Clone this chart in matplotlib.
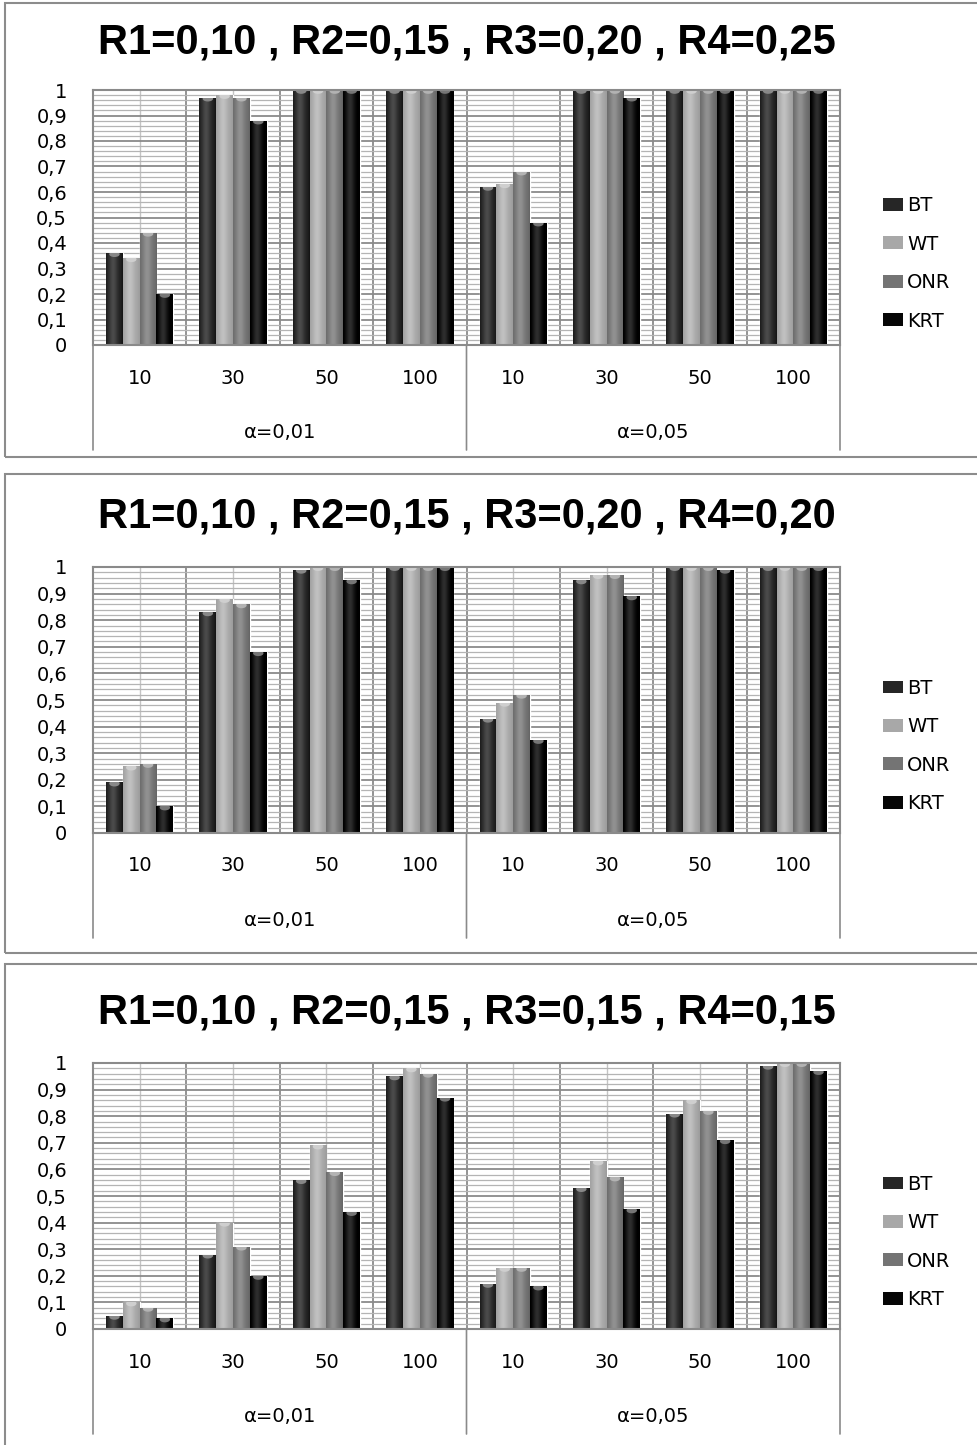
import numpy as np
import matplotlib
matplotlib.use("Agg")
import matplotlib.pyplot as plt
from matplotlib.patches import Rectangle, Ellipse
from matplotlib.transforms import ScaledTranslation
from matplotlib.colors import to_rgb

# ---- data -------------------------------------------------------------
sample_sizes = ["10", "30", "50", "100"]
alpha_groups = ["α=0,01", "α=0,05"]
series_names = ["BT", "WT", "ONR", "KRT"]
series_colors = ["#262626", "#a8a8a8", "#747474", "#060606"]

titles = [
    "R1=0,10 , R2=0,15 , R3=0,20 , R4=0,25",
    "R1=0,10 , R2=0,15 , R3=0,20 , R4=0,20",
    "R1=0,10 , R2=0,15 , R3=0,15 , R4=0,15",
]

# power values: 4 sample sizes for α=0,01 followed by 4 for α=0,05
p1_bt = [0.36, 0.97, 1.00, 1.00, 0.62, 1.00, 1.00, 1.00]
p1_wt = [0.34, 0.98, 1.00, 1.00, 0.63, 1.00, 1.00, 1.00]
p1_onr = [0.44, 0.97, 1.00, 1.00, 0.68, 1.00, 1.00, 1.00]
p1_krt = [0.20, 0.88, 1.00, 1.00, 0.48, 0.97, 1.00, 1.00]

p2_bt = [0.19, 0.83, 0.99, 1.00, 0.43, 0.95, 1.00, 1.00]
p2_wt = [0.25, 0.88, 1.00, 1.00, 0.49, 0.97, 1.00, 1.00]
p2_onr = [0.26, 0.86, 1.00, 1.00, 0.52, 0.97, 1.00, 1.00]
p2_krt = [0.10, 0.68, 0.95, 1.00, 0.35, 0.89, 0.99, 1.00]

p3_bt = [0.05, 0.28, 0.56, 0.95, 0.17, 0.53, 0.81, 0.99]
p3_wt = [0.10, 0.40, 0.69, 0.98, 0.23, 0.63, 0.86, 1.00]
p3_onr = [0.08, 0.31, 0.59, 0.96, 0.23, 0.57, 0.82, 1.00]
p3_krt = [0.04, 0.20, 0.44, 0.87, 0.16, 0.45, 0.71, 0.97]

panels = [
    [p1_bt, p1_wt, p1_onr, p1_krt],
    [p2_bt, p2_wt, p2_onr, p2_krt],
    [p3_bt, p3_wt, p3_onr, p3_krt],
]

# ---- figure layout (pixels) -------------------------------------------
W, H, DPI = 977, 1445, 100
fig = plt.figure(figsize=(W / DPI, H / DPI), dpi=DPI)
fig.patch.set_facecolor("white")

def fx(px):
    return px / W

def fy(py):
    return 1 - py / H

AX_LEFT, AX_RIGHT = 93, 840
axes_tb = [(90, 345), (567, 833), (1063, 1329)]
frames_tb = [(3, 457), (474, 953), (964, 1460)]
title_gap = [47, 50, 51]

TEXT_FONT = ["DejaVu Sans"]
TITLE_FONT = ["Liberation Sans Narrow", "Liberation Sans", "DejaVu Sans"]
FS = 14


def lighten(c, k):
    r = np.array(to_rgb(c))
    return tuple(r + (1 - r) * k)


def shade_bar(ax, rect, color):
    """Cylinder-like horizontal shading plus a light cap at the top."""
    x, w, h = rect.get_x(), rect.get_width(), rect.get_height()
    if h <= 0:
        return
    t = np.linspace(0, 1, 40)
    base = np.array(to_rgb(color))
    glow = 0.16 * np.exp(-((t - 0.42) / 0.25) ** 2) - 0.08 * (t ** 6) - 0.05 * ((1 - t) ** 8)
    rgb = np.clip(base[None, :] + glow[:, None] * (1 - base[None, :] * 0.6), 0, 1)
    img = rgb[None, :, :]
    im = ax.imshow(img, extent=[x, x + w, 0, h], aspect="auto",
                   interpolation="bilinear", zorder=2.1)
    im.set_clip_path(rect)
    cap = Ellipse((x + w / 2, h - 0.004), w * 0.62, 0.022,
                  facecolor=lighten(color, 0.45), edgecolor="none", zorder=2.2)
    ax.add_patch(cap)
    cap.set_clip_path(rect)


n_cat = len(alpha_groups) * len(sample_sizes)
xpos = np.arange(n_cat)
bar_w = 0.18
offsets = (np.arange(len(series_names)) - 1.5) * bar_w
ylabels = ["0"] + [f"0,{i}" for i in range(1, 10)] + ["1"]

for pi, (values, title) in enumerate(zip(panels, titles)):
    top, bottom = axes_tb[pi]
    ftop, fbot = frames_tb[pi]

    # panel frame
    fig.patches.append(Rectangle((fx(5), fy(fbot)), fx(W + 10 - 5), fy(ftop) - fy(fbot),
                                 transform=fig.transFigure, facecolor="none",
                                 edgecolor="#8c8c8c", lw=1.5, zorder=0))

    ax = fig.add_axes([fx(AX_LEFT), fy(bottom), fx(AX_RIGHT - AX_LEFT), fy(top) - fy(bottom)])
    ax.set_axisbelow(True)

    for si, (name, col) in enumerate(zip(series_names, series_colors)):
        bars = ax.bar(xpos + offsets[si], values[si], width=bar_w, color=col,
                      edgecolor="white", linewidth=1.0, zorder=2, label=name)
        for rect in bars:
            shade_bar(ax, rect, col)

    ax.set_xlim(-0.5, n_cat - 0.5)
    ax.set_ylim(0, 1)

    # grid: major every 0,1 and minor every 0,02; vertical lines every half category
    ax.set_yticks(np.arange(0, 1.001, 0.1))
    ax.set_yticks(np.arange(0, 1.001, 0.02), minor=True)
    ax.set_yticklabels(ylabels, fontsize=FS, family=TEXT_FONT)
    ax.set_xticks(np.arange(-0.5, n_cat, 1.0))
    ax.set_xticks(xpos, minor=True)
    ax.set_xticklabels([])
    ax.tick_params(axis="both", which="both", length=0)
    ax.tick_params(axis="y", pad=26 * 72 / DPI)
    ax.grid(True, which="major", axis="y", color="#8a8a8a", lw=1.3)
    ax.grid(True, which="minor", axis="y", color="#b4b4b4", lw=0.9)
    ax.grid(True, which="major", axis="x", color="#8a8a8a", lw=1.3)
    ax.grid(True, which="minor", axis="x", color="#c4c4c4", lw=1.0)
    for sp in ax.spines.values():
        sp.set_color("#8a8a8a")
        sp.set_linewidth(1.5)

    # category axis labels
    xt = ax.get_xaxis_transform()
    for i in range(n_cat):
        ax.text(xpos[i], 0, sample_sizes[i % len(sample_sizes)],
                transform=xt + ScaledTranslation(0, -33 / DPI, fig.dpi_scale_trans),
                ha="center", va="center", fontsize=FS, family=TEXT_FONT)
    for gi, g in enumerate(alpha_groups):
        gc = gi * len(sample_sizes) + (len(sample_sizes) - 1) / 2
        ax.text(gc, 0, g,
                transform=xt + ScaledTranslation(0, -88 / DPI, fig.dpi_scale_trans),
                ha="center", va="center", fontsize=FS, family=TEXT_FONT)
    # separators below the axis
    for bx in (-0.5, len(sample_sizes) - 0.5, n_cat - 0.5):
        ax.annotate("", xy=(bx, 0), xycoords=xt,
                    xytext=(0, -105 * 72 / DPI), textcoords="offset points",
                    arrowprops=dict(arrowstyle="-", color="#8a8a8a", lw=1.2,
                                    shrinkA=0, shrinkB=0))

    # title
    fig.text(fx((AX_LEFT + AX_RIGHT) / 2), fy(top - title_gap[pi]), title,
             ha="center", va="center", fontsize=30, fontweight="bold",
             family=TITLE_FONT)

    # legend
    handles = [Rectangle((0, 0), 1, 1, facecolor=c, edgecolor="none") for c in series_colors]
    ax.legend(handles, series_names, loc="center left", frameon=False,
              bbox_to_anchor=(fx(883), fy((top + bottom) / 2 + 46)),
              bbox_transform=fig.transFigure, borderpad=0, borderaxespad=0,
              handlelength=1.05, handleheight=0.65, handletextpad=0.2,
              labelspacing=1.0, prop={"family": TEXT_FONT, "size": FS})

fig.savefig("out.png", dpi=DPI, facecolor="white")
